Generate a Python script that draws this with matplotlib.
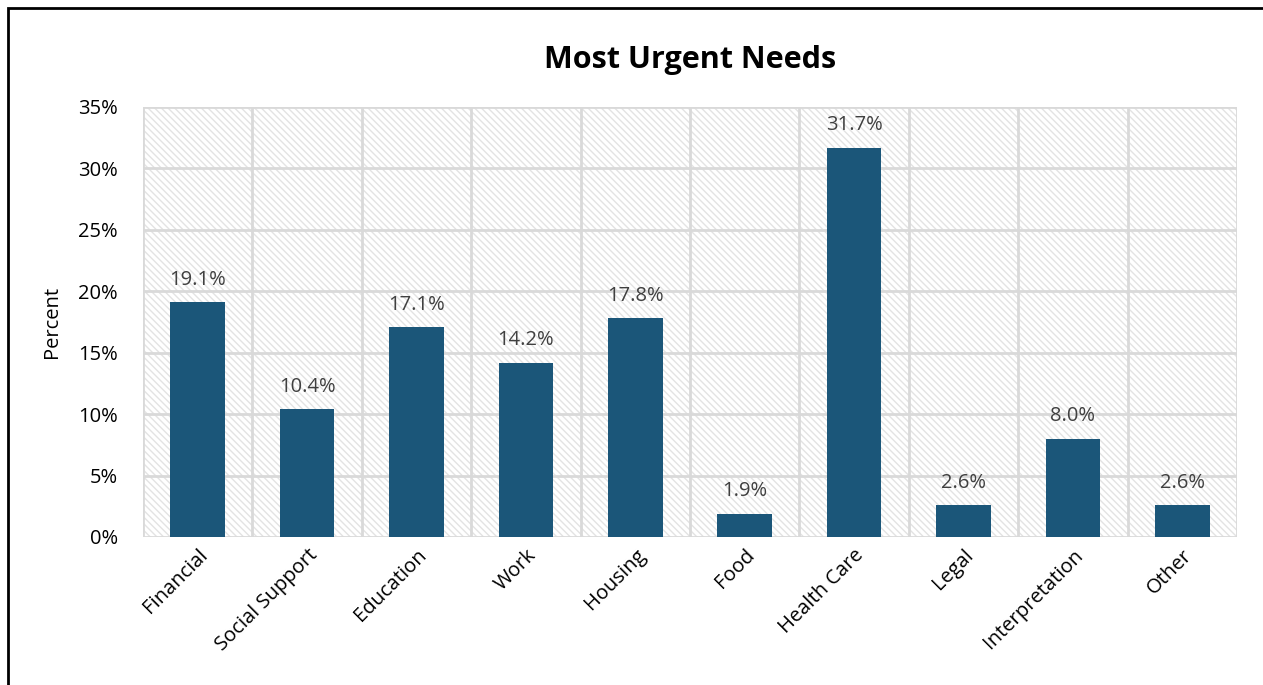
import numpy as np
import matplotlib.pyplot as plt
from matplotlib.patches import Rectangle

categories = ['Financial', 'Social Support', 'Education', 'Work', 'Housing',
              'Food', 'Health Care', 'Legal', 'Interpretation', 'Other']
percent = [19.1, 10.4, 17.1, 14.2, 17.8, 1.9, 31.7, 2.6, 8.0, 2.6]
yticks = [0, 5, 10, 15, 20, 25, 30, 35]

plt.rcParams['font.family'] = ['Open Sans', 'DejaVu Sans']
plt.rcParams['hatch.linewidth'] = 1.0
plt.rcParams['hatch.color'] = '#e3e3e3'

fig = plt.figure(figsize=(12.63, 6.85), dpi=100)
ax = fig.add_axes([143 / 1263, 1 - 537 / 685, (1237 - 143) / 1263, (537 - 107) / 685])

# outer frame (right and bottom edges run off the canvas)
fig.patches.append(Rectangle((8 / 1263, -0.1), 1.1, 1 - 8 / 685 + 0.1,
                             transform=fig.transFigure, fill=False,
                             edgecolor='black', linewidth=2))

x = np.arange(len(categories))
ax.set_xlim(-0.5, len(categories) - 0.5)
ax.set_ylim(0, 35)

# hatched plot area
ax.add_patch(Rectangle((0, 0), 1, 1, transform=ax.transAxes, facecolor='white',
                       edgecolor='#e3e3e3', hatch='\\' * 5, linewidth=0, zorder=0))

# gridlines between categories and at each tick
for b in np.arange(-0.5, len(categories), 1):
    ax.axvline(b, color='#d9d9d9', linewidth=2, zorder=1)
for t in yticks:
    ax.axhline(t, color='#d9d9d9', linewidth=2, zorder=1)

bars = ax.bar(x, percent, width=0.5, color='#1b5679', zorder=3)
for bar, v in zip(bars, percent):
    ax.text(bar.get_x() + bar.get_width() / 2, v + 1.0, f'{v:.1f}%',
            ha='center', va='bottom', fontsize=14.5, color='#404040')

for s in ax.spines.values():
    s.set_visible(False)
ax.set_yticks(yticks)
ax.set_yticklabels([f'{t}%' for t in yticks], fontsize=14.5)
ax.set_xticks(x)
ax.set_xticklabels(categories, rotation=45, ha='right', rotation_mode='anchor', fontsize=14.5)
ax.tick_params(axis='y', length=0, pad=18)
ax.tick_params(axis='x', length=0, pad=6)
ax.set_ylabel('Percent', fontsize=14.5, labelpad=12)
ax.set_title('Most Urgent Needs', fontsize=22, fontweight='bold', pad=28)

fig.savefig('out.png', dpi=100)
